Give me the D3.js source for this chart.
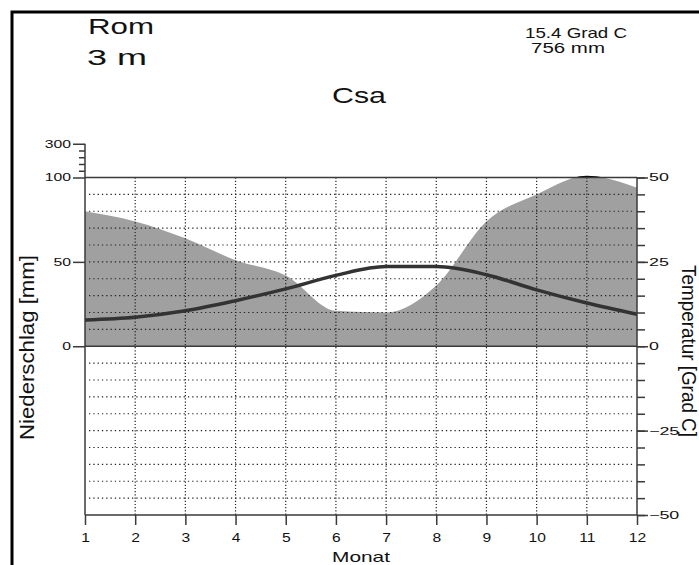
<!DOCTYPE html>
<html>
<head>
<meta charset="utf-8">
<script src="https://cdn.jsdelivr.net/npm/d3@7"></script>
<style>
  body { margin: 0; background: #fff; }
  svg { display: block; }
  text { font-family: "Liberation Sans", Arial, sans-serif; fill: #111; }
</style>
</head>
<body>
<svg id="chart" width="699" height="565"></svg>
<script>
(function() {
  // Klimadaten Rom
  const months = [1, 2, 3, 4, 5, 6, 7, 8, 9, 10, 11, 12];
  const precip = [80, 74, 64, 51, 42, 21, 20, 36, 74, 90, 110, 94]; // mm
  const temp = [7.8, 8.6, 10.5, 13.5, 17.0, 21.0, 23.6, 23.6, 21.2, 16.7, 12.8, 9.5]; // Grad C
  const precipTicks = [0, 50, 100, 300];
  const precipMinor = [140, 180, 220, 260];
  const tempTicks = [-50, -25, 0, 25, 50];
  const tempMinor = d3.range(-50, 51, 5);
  const tempGrid = d3.range(-45, 46, 5).filter(d => d !== 0);

  const svg = d3.select('#chart');

  // Scales
  const x = d3.scaleLinear().domain([1, 12]).range([85, 637]);
  const yT = d3.scaleLinear().domain([-50, 50]).range([515, 177.5]);
  // ueber 100 mm um Faktor 10 gestaucht
  const yP = d3.scaleLinear().domain([0, 100, 300]).range([yT(0), yT(50), yT(50) - 20 * (yT(0) - yT(50)) / 100]);

  // stretch text horizontally like the original
  function widen(sel, k) {
    sel.each(function() {
      const w = this.getComputedTextLength();
      d3.select(this).attr('textLength', w * k).attr('lengthAdjust', 'spacingAndGlyphs');
    });
  }

  // outer frame
  svg.append('rect')
    .attr('x', 12).attr('y', 12).attr('width', 800).attr('height', 800)
    .attr('fill', 'none').attr('stroke', '#000').attr('stroke-width', 3);

  // precipitation fill
  const defs = svg.append('defs');
  defs.append('clipPath').attr('id', 'below').append('rect')
    .attr('x', x(1)).attr('y', yP(100)).attr('width', x(12) - x(1)).attr('height', yP(0) - yP(100));
  defs.append('clipPath').attr('id', 'above').append('rect')
    .attr('x', x(1)).attr('y', yP(300)).attr('width', x(12) - x(1)).attr('height', yP(100) - yP(300));

  const area = d3.area()
    .x((d, i) => x(months[i]))
    .y0(yP(0))
    .y1(d => yP(d))
    .curve(d3.curveMonotoneX);

  svg.append('path').datum(precip)
    .attr('d', area).attr('fill', '#a0a0a0').attr('clip-path', 'url(#below)');
  svg.append('path').datum(precip)
    .attr('d', area).attr('fill', '#000').attr('clip-path', 'url(#above)');

  // dotted grid
  svg.append('g').selectAll('line').data(tempGrid).enter().append('line')
    .attr('x1', x(1) + 4).attr('x2', x(12) - 2)
    .attr('y1', d => yT(d)).attr('y2', d => yT(d))
    .attr('stroke', '#222').attr('stroke-width', 1.2).attr('stroke-dasharray', '1.3,3');
  svg.append('g').selectAll('line').data(months.slice(1, 11)).enter().append('line')
    .attr('x1', d => x(d)).attr('x2', d => x(d))
    .attr('y1', yT(50)).attr('y2', yT(-50))
    .attr('stroke', '#222').attr('stroke-width', 1.2).attr('stroke-dasharray', '1.2,2');

  // temperature line
  const line = d3.line()
    .x((d, i) => x(months[i]))
    .y(d => yT(d))
    .curve(d3.curveMonotoneX);
  svg.append('path').datum(temp)
    .attr('d', line).attr('fill', 'none').attr('stroke', '#333').attr('stroke-width', 3.5);

  // plot frame + zero line
  const ax = '#3a3a3a';
  svg.append('line').attr('x1', x(1)).attr('x2', x(1)).attr('y1', yP(300)).attr('y2', yT(-50))
    .attr('stroke', ax).attr('stroke-width', 1.5);
  svg.append('line').attr('x1', x(12)).attr('x2', x(12)).attr('y1', yT(50)).attr('y2', yT(-50))
    .attr('stroke', ax).attr('stroke-width', 1.5);
  [50, 0, -50].forEach(t => {
    svg.append('line').attr('x1', x(1)).attr('x2', x(12)).attr('y1', yT(t)).attr('y2', yT(t))
      .attr('stroke', ax).attr('stroke-width', 1.5);
  });

  // axes
  const left = svg.append('g').attr('transform', `translate(${x(1)},0)`)
    .call(d3.axisLeft(yP).tickValues(precipTicks).tickSize(12).tickPadding(2).tickSizeOuter(0));
  svg.append('g').attr('transform', `translate(${x(1)},0)`)
    .call(d3.axisLeft(yP).tickValues(precipMinor).tickSize(6).tickFormat('').tickSizeOuter(0));

  svg.append('g').attr('transform', `translate(${x(12)},0)`)
    .call(d3.axisRight(yT).tickValues(tempMinor).tickSize(8).tickFormat('').tickSizeOuter(0));
  const right = svg.append('g').attr('transform', `translate(${x(12)},0)`)
    .call(d3.axisRight(yT).tickValues(tempTicks).tickSize(11).tickPadding(1).tickSizeOuter(0));

  const bottom = svg.append('g').attr('transform', `translate(0,${yT(-50)})`)
    .call(d3.axisBottom(x).tickValues(months).tickFormat(d3.format('d')).tickSize(10).tickPadding(8).tickSizeOuter(0));

  svg.selectAll('.domain').remove();
  svg.selectAll('.tick line').attr('stroke', ax).attr('stroke-width', 1.5);

  left.selectAll('text').attr('font-size', 10.5).attr('fill', '#111').call(widen, 1.5);
  right.selectAll('text').attr('font-size', 10.5).attr('fill', '#111').call(widen, 1.7);
  bottom.selectAll('text').attr('font-size', 12).attr('fill', '#111').call(widen, 1.3);

  // titles
  svg.append('text').attr('x', 88).attr('y', 34).attr('font-size', 22)
    .attr('textLength', 66).attr('lengthAdjust', 'spacingAndGlyphs').text('Rom');
  svg.append('text').attr('x', 87).attr('y', 65).attr('font-size', 22)
    .attr('textLength', 60).attr('lengthAdjust', 'spacingAndGlyphs').text('3  m');
  svg.append('text').attr('x', 359).attr('y', 103).attr('font-size', 22).attr('text-anchor', 'middle')
    .attr('textLength', 54).attr('lengthAdjust', 'spacingAndGlyphs').text('Csa');
  svg.append('text').attr('x', 525).attr('y', 38).attr('font-size', 15)
    .attr('textLength', 102).attr('lengthAdjust', 'spacingAndGlyphs').text('15.4 Grad C');
  svg.append('text').attr('x', 531).attr('y', 53).attr('font-size', 14)
    .attr('textLength', 74).attr('lengthAdjust', 'spacingAndGlyphs').text('756 mm');

  // axis titles
  svg.append('text').attr('transform', 'translate(34,347.5) rotate(-90)')
    .attr('font-size', 21).attr('text-anchor', 'middle')
    .attr('textLength', 185).attr('lengthAdjust', 'spacingAndGlyphs').text('Niederschlag [mm]');
  svg.append('text').attr('transform', 'translate(682,351) rotate(90)')
    .attr('font-size', 20).attr('text-anchor', 'middle')
    .attr('textLength', 172).attr('lengthAdjust', 'spacingAndGlyphs').text('Temperatur [Grad C]');
  svg.append('text').attr('x', 361).attr('y', 562).attr('font-size', 15).attr('text-anchor', 'middle')
    .attr('textLength', 58).attr('lengthAdjust', 'spacingAndGlyphs').text('Monat');
})();
</script>
</body>
</html>
